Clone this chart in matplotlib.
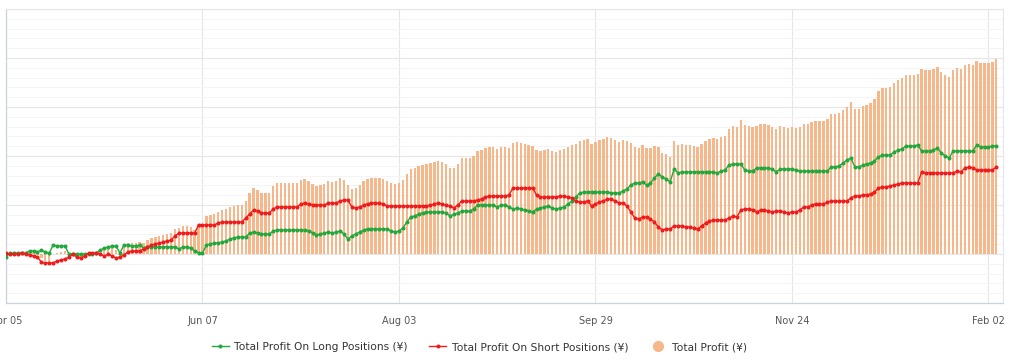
import numpy as np
import matplotlib
matplotlib.use("Agg")
import matplotlib.pyplot as plt
from matplotlib.lines import Line2D
from matplotlib.ticker import MultipleLocator

# profit values, one per trading day (chart units, y labels not shown)
long_profit = [
    -3, 1, 1, 1, 1, 1, 3, 3, 2, 4,
    2, 1, 9, 8, 8, 8, 0, 0, 0, 0,
    0, 0, 0, 1, 4, 6, 7, 8, 8, 1,
    9, 9, 8, 8, 9, 6, 7, 7, 7, 7,
    7, 7, 7, 7, 5, 7, 7, 6, 3, 1,
    1, 9, 10, 11, 11, 12, 13, 15, 16, 17,
    17, 17, 21, 22, 21, 20, 20, 20, 23, 24,
    24, 24, 24, 24, 24, 24, 24, 23, 21, 19,
    20, 21, 22, 21, 22, 23, 20, 15, 18, 20,
    22, 24, 25, 25, 25, 25, 25, 25, 23, 22,
    23, 26, 32, 37, 38, 40, 41, 42, 42, 42,
    42, 42, 41, 38, 40, 41, 43, 43, 43, 45,
    49, 49, 49, 49, 49, 47, 49, 49, 47, 45,
    46, 45, 44, 43, 42, 45, 46, 47, 48, 46,
    45, 46, 47, 50, 53, 57, 61, 62, 62, 62,
    62, 62, 62, 62, 61, 61, 61, 63, 65, 69,
    71, 71, 72, 69, 71, 76, 80, 77, 75, 72,
    85, 81, 82, 82, 82, 82, 82, 82, 82, 82,
    82, 81, 83, 84, 89, 90, 90, 90, 84, 83,
    83, 86, 86, 86, 86, 85, 82, 85, 85, 85,
    85, 84, 83, 83, 83, 83, 83, 83, 83, 83,
    87, 87, 88, 91, 94, 96, 87, 87, 89, 90,
    91, 93, 97, 99, 99, 99, 102, 104, 105, 108,
    108, 108, 109, 103, 103, 103, 104, 106, 101, 98,
    96, 103, 103, 103, 103, 103, 103, 109, 107, 107,
    107, 108, 108,
]

short_profit = [
    1, 0, 0, 0, 1, 0, -1, -2, -3, -8,
    -9, -9, -9, -7, -6, -5, -3, 0, -3, -4,
    -2, 1, 1, 1, 0, -2, 0, -2, -4, -3,
    -1, 2, 3, 3, 3, 5, 7, 9, 10, 11,
    12, 13, 14, 18, 21, 21, 21, 21, 21, 29,
    29, 29, 29, 29, 31, 32, 32, 32, 32, 32,
    32, 36, 40, 44, 43, 41, 41, 41, 45, 47,
    47, 47, 47, 47, 47, 50, 51, 50, 49, 49,
    49, 49, 51, 51, 51, 53, 54, 54, 47, 46,
    47, 49, 50, 51, 51, 51, 50, 48, 48, 48,
    48, 48, 48, 48, 48, 48, 48, 48, 49, 50,
    51, 50, 49, 48, 46, 49, 53, 53, 53, 53,
    54, 55, 57, 58, 58, 58, 58, 58, 59, 66,
    66, 66, 66, 66, 66, 59, 57, 57, 57, 57,
    57, 58, 58, 57, 56, 53, 52, 52, 53, 48,
    50, 52, 53, 55, 55, 53, 51, 51, 48, 42,
    36, 35, 37, 37, 35, 32, 27, 24, 25, 25,
    28, 28, 28, 27, 27, 26, 25, 28, 31, 33,
    34, 34, 34, 34, 36, 38, 37, 44, 45, 45,
    44, 42, 44, 44, 43, 42, 43, 43, 42, 41,
    42, 42, 44, 47, 47, 49, 50, 50, 50, 52,
    53, 53, 53, 53, 53, 56, 58, 58, 59, 59,
    60, 62, 66, 67, 67, 68, 69, 70, 71, 71,
    71, 71, 71, 82, 81, 81, 81, 81, 81, 81,
    81, 81, 83, 82, 86, 87, 86, 84, 84, 84,
    84, 84, 87,
]

total_profit = [
    -2, 1, 1, 1, 2, 1, 2, 1, -1, -4,
    -7, -8, 0, 1, 2, 3, -3, 0, -3, -4,
    -2, 1, 1, 2, 4, 4, 7, 6, 4, -2,
    8, 11, 11, 11, 12, 11, 14, 16, 17, 18,
    19, 20, 21, 25, 26, 28, 28, 27, 24, 30,
    30, 38, 39, 40, 42, 44, 45, 47, 48, 49,
    49, 53, 61, 66, 64, 61, 61, 61, 68, 71,
    71, 71, 71, 71, 71, 74, 75, 73, 70, 68,
    69, 70, 73, 72, 73, 76, 74, 69, 65, 66,
    69, 73, 75, 76, 76, 76, 75, 73, 71, 70,
    71, 74, 80, 85, 86, 88, 89, 90, 91, 92,
    93, 92, 90, 86, 86, 90, 96, 96, 96, 98,
    103, 104, 106, 107, 107, 105, 107, 107, 106, 111,
    112, 111, 110, 109, 108, 104, 103, 104, 105, 103,
    102, 104, 105, 107, 109, 110, 113, 114, 115, 110,
    112, 114, 115, 117, 116, 114, 112, 114, 113, 111,
    107, 106, 109, 106, 106, 108, 107, 101, 100, 97,
    113, 109, 110, 109, 109, 108, 107, 110, 113, 115,
    116, 115, 117, 118, 125, 128, 127, 134, 129, 128,
    127, 128, 130, 130, 129, 127, 125, 128, 127, 126,
    127, 126, 127, 130, 130, 132, 133, 133, 133, 135,
    140, 140, 141, 144, 147, 152, 145, 145, 148, 149,
    151, 155, 163, 166, 166, 167, 171, 174, 176, 179,
    179, 179, 180, 185, 184, 184, 185, 187, 182, 179,
    177, 184, 186, 185, 189, 190, 189, 193, 191, 191,
    191, 192, 195,
]

tick_days = [0, 50, 100, 150, 200, 250]
tick_labels = ["Apr 05", "Jun 07", "Aug 03", "Sep 29", "Nov 24", "Feb 02"]

assert len(long_profit) == len(short_profit) == len(total_profit), \
    (len(long_profit), len(short_profit), len(total_profit))

green = "#22a83c"
red = "#ee1c1c"
orange = "#f6b88a"
grid_c = "#e6e6e6"

days = np.arange(len(total_profit))

fig = plt.figure(figsize=(10.09, 3.6), dpi=100)
ax = fig.add_axes([6 / 1009, 57 / 360, 997 / 1009, 294 / 360])

ax.bar(days, total_profit, width=0.6, color=orange, zorder=2)
ax.plot(days, long_profit, color=green, lw=1.0, marker="o", ms=1.9, zorder=3)
ax.plot(days, short_profit, color=red, lw=1.0, marker="o", ms=1.9, zorder=4)

ax.set_xlim(0, 253.7)
ax.set_ylim(-49, 245)
ax.yaxis.set_major_locator(MultipleLocator(49))
ax.yaxis.set_minor_locator(MultipleLocator(9.8))
ax.grid(axis="y", which="major", color=grid_c, lw=0.8, zorder=0)
ax.grid(axis="y", which="minor", color="#f4f4f4", lw=0.7, zorder=0)
ax.set_xticks(tick_days)
ax.set_xticklabels(tick_labels, fontsize=7, color="#555555")
ax.grid(axis="x", which="major", color=grid_c, lw=0.8, zorder=0)
ax.tick_params(axis="x", length=0, pad=9)
ax.tick_params(axis="y", which="both", length=0, labelleft=False)
for side in ["top", "right"]:
    ax.spines[side].set_color(grid_c)
    ax.spines[side].set_linewidth(0.8)
for side in ["left", "bottom"]:
    ax.spines[side].set_color("#ccd2dc")
    ax.spines[side].set_linewidth(0.9)

handles = [
    Line2D([], [], color=green, lw=1.0, marker="o", ms=1.9),
    Line2D([], [], color=red, lw=1.0, marker="o", ms=1.9),
    Line2D([], [], color=orange, lw=0, marker="o", ms=7),
]
labels = ["Total Profit On Long Positions (¥)",
          "Total Profit On Short Positions (¥)",
          "Total Profit (¥)"]
fig.legend(handles, labels, loc="center", bbox_to_anchor=(0.475, 0.036), ncol=3,
           frameon=False, fontsize=7.7, handlelength=1.6, handletextpad=0.5,
           columnspacing=2.0, labelcolor="#333333")

fig.savefig("out.png", dpi=100)
